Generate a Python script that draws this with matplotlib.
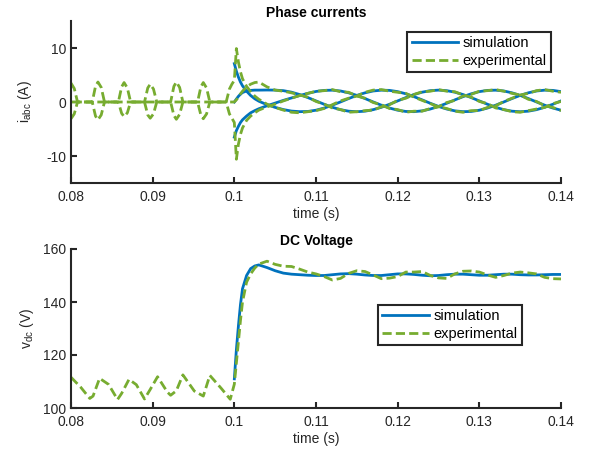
import matplotlib
matplotlib.use('Agg')
import matplotlib.pyplot as plt

plt.rcParams['font.family'] = ['Liberation Sans', 'DejaVu Sans']
plt.rcParams['mathtext.default'] = 'regular'
plt.rcParams['axes.unicode_minus'] = False

BLUE = '#0072BD'
GREEN = '#77AC30'
DARK = '#262626'

# ---- time bases (s) ----
t_sim = [0.1, 0.10025, 0.1005, 0.10075, 0.101, 0.1015, 0.102, 0.1025, 0.103,
         0.104, 0.105, 0.106, 0.107, 0.108, 0.109, 0.110, 0.111, 0.112, 0.113,
         0.114, 0.115, 0.116, 0.117, 0.118, 0.119, 0.120, 0.121, 0.122, 0.123,
         0.124, 0.125, 0.126, 0.127, 0.128, 0.129, 0.130, 0.131, 0.132, 0.133,
         0.134, 0.135, 0.136, 0.137, 0.138, 0.139, 0.140]

t_pulse = [0.0800, 0.0804, 0.0808,
           0.0826, 0.0830, 0.0833, 0.0837, 0.0841,
           0.0858, 0.0862, 0.0865, 0.0869, 0.0873,
           0.0890, 0.0894, 0.0897, 0.0901, 0.0905,
           0.0922, 0.0926, 0.0929, 0.0933, 0.0937,
           0.0955, 0.0959, 0.0962, 0.0966, 0.0970,
           0.0990, 0.0994, 0.0997]

t_vdc_pre = [0.0800, 0.0812, 0.0823, 0.0827, 0.0835, 0.0846, 0.0857, 0.0862,
             0.0871, 0.0880, 0.0890, 0.0897, 0.0906, 0.0918, 0.0922, 0.0929,
             0.0937, 0.0951, 0.0962, 0.0970, 0.0984, 0.0995]

# ---- phase currents, simulation (A) ----
ia_sim = [7.1, 5.7, 4.6, 3.7, 3.0, 2.0, 1.2, 0.6, 0.15,
          -0.5, -1.0, -1.4, -1.68, -1.79, -1.75, -1.52, -1.12, -0.59, 0.01,
          0.64, 1.22, 1.70, 2.04, 2.19, 2.15, 1.92, 1.52, 0.99, 0.39,
          -0.24, -0.82, -1.30, -1.64, -1.79, -1.75, -1.52, -1.12, -0.59, 0.01,
          0.64, 1.22, 1.70, 2.04, 2.19, 2.15, 1.92]
ib_sim = [0.0, 0.55, 1.05, 1.45, 1.75, 2.05, 2.15, 2.2, 2.2,
          2.22, 2.2, 2.1, 1.82, 1.38, 0.82, 0.2, -0.42, -0.98, -1.42,
          -1.70, -1.80, -1.70, -1.42, -0.98, -0.42, 0.20, 0.82, 1.38, 1.82,
          2.10, 2.20, 2.10, 1.82, 1.38, 0.82, 0.20, -0.42, -0.98, -1.42,
          -1.70, -1.80, -1.70, -1.42, -0.98, -0.42, 0.20]
ic_sim = [-6.5, -5.3, -4.5, -3.8, -3.3, -2.6, -2.0, -1.6, -1.25,
          -0.7, -0.2, 0.3, 0.75, 1.2, 1.6, 1.95, 2.15, 2.19, 2.04,
          1.70, 1.22, 0.64, 0.01, -0.59, -1.12, -1.52, -1.75, -1.79, -1.64,
          -1.30, -0.82, -0.24, 0.39, 0.99, 1.52, 1.92, 2.15, 2.19, 2.04,
          1.70, 1.22, 0.64, 0.01, -0.59, -1.12, -1.52]

# ---- phase currents, experimental (A) ----
ia_exp_pre = [3.5, 2.5, 0,
              0, 0, 0, 0, 0,
              0, -2.1, -2.7, -2.0, 0,
              0, -2.4, -3.0, -2.2, 0,
              0, 0, 0, 0, 0,
              0, 2.8, 3.6, 2.6, 0,
              0, 2.4, 3.3]
ib_exp_pre = [0, 0, 0,
              0, 2.9, 3.7, 2.7, 0,
              0, 2.8, 3.6, 2.6, 0,
              0, 0, 0, 0, 0,
              0, -2.5, -3.2, -2.3, 0,
              0, -2.4, -3.1, -2.2, 0,
              0, 0, 0]
ic_exp_pre = [-3.1, -2.2, 0,
              0, -2.6, -3.3, -2.4, 0,
              0, 0, 0, 0, 0,
              0, 2.6, 3.3, 2.4, 0,
              0, 2.9, 3.7, 2.7, 0,
              0, 0, 0, 0, 0,
              0, -2.2, -3.0]

ia_exp_post = [4.0, 9.9, 7.4, 5.6, 4.3, 2.9, 1.9, 1.1, 0.5,
               -0.4, -1.0, -1.5, -1.9, -2.0, -1.8, -1.6, -1.2, -0.5, 0.2,
               0.7, 1.1, 1.8, 2.2, 2.3, 2.0, 1.8, 1.6, 0.9, 0.3,
               -0.3, -0.9, -1.2, -1.7, -1.9, -1.6, -1.6, -1.0, -0.7, 0.1,
               0.7, 1.3, 1.6, 2.1, 2.3, 2.0, 1.8]
ib_exp_post = [0.0, 0.4, 0.9, 1.5, 2.0, 2.8, 3.3, 3.6, 3.7,
               2.8, 2.2, 2.0, 1.7, 1.3, 0.9, 0.1, -0.4, -1.1, -1.4,
               -1.9, -1.8, -1.6, -1.5, -0.9, -0.5, 0.3, 0.7, 1.4, 1.9,
               2.0, 2.3, 2.0, 1.9, 1.3, 0.9, 0.1, -0.3, -1.1, -1.4,
               -1.8, -1.9, -1.6, -1.3, -1.0, -0.3, 0.1]
ic_exp_post = [-3.8, -10.6, -7.8, -6.0, -4.8, -3.4, -2.6, -2.0, -1.5,
               -0.9, -0.4, 0.2, 0.7, 1.2, 1.6, 2.0, 2.1, 2.3, 1.9,
               1.8, 1.1, 0.7, -0.1, -0.5, -1.2, -1.4, -1.9, -1.7, -1.7,
               -1.2, -0.9, -0.1, 0.3, 1.1, 1.4, 2.0, 2.1, 2.3, 2.0,
               1.6, 1.3, 0.5, 0.1, -0.7, -1.0, -1.6]

# ---- DC voltage (V) ----
vdc_sim = [111.0, 122.0, 131.0, 139.0, 145.0, 150.0, 152.6, 153.6, 154.0,
           153.0, 151.8, 150.9, 150.5, 150.3, 150.1, 150.0, 150.0, 150.3, 150.6,
           150.7, 150.5, 150.2, 150.0, 150.0, 150.3, 150.6, 150.6, 150.4, 150.1,
           149.9, 150.0, 150.3, 150.5, 150.5, 150.3, 150.1, 150.1, 150.3, 150.5,
           150.5, 150.3, 150.2, 150.2, 150.3, 150.4, 150.4]
vdc_exp_pre = [111.6, 107.8, 103.6, 104.5, 111.2, 108.9, 103.2, 105.5,
               110.8, 108.8, 103.4, 107.0, 111.8, 106.0, 104.8, 106.5,
               112.5, 106.4, 104.5, 112.3, 107.4, 103.3]
vdc_exp_post = [109.0, 117.0, 125.0, 133.0, 140.0, 147.5, 150.6, 152.8, 154.3,
                155.4, 154.2, 153.5, 153.4, 152.4, 151.3, 150.6, 149.6, 148.3, 148.9,
                150.8, 151.8, 151.5, 150.2, 148.8, 149.0, 149.6, 151.3, 151.3, 151.5,
                150.0, 149.1, 148.9, 150.6, 151.6, 151.7, 151.3, 150.2, 149.3, 150.0,
                150.9, 151.3, 151.0, 150.6, 149.3, 148.8, 148.7]

xticks = [0.08, 0.09, 0.10, 0.11, 0.12, 0.13, 0.14]
xtick_labels = ['0.08', '0.09', '0.1', '0.11', '0.12', '0.13', '0.14']

t_exp = t_pulse + t_sim
t_vdc_exp = t_vdc_pre + t_sim


def style_axes(ax):
    for side in ['top', 'right']:
        ax.spines[side].set_visible(False)
    for side in ['left', 'bottom']:
        ax.spines[side].set_linewidth(1.5)
        ax.spines[side].set_color(DARK)
    ax.tick_params(direction='in', length=4, width=1.5, colors=DARK,
                   labelsize=10, top=False, right=False)
    ax.tick_params(axis='x', pad=5)
    ax.set_xlim(0.08, 0.14)
    ax.set_xticks(xticks)
    ax.set_xticklabels(xtick_labels)
    ax.set_xlabel('time (s)', fontsize=10, color=DARK, labelpad=2)


def add_legend(ax, anchor):
    leg = ax.legend(loc='upper right', bbox_to_anchor=anchor, fontsize=10.5,
                    fancybox=False, framealpha=1, edgecolor=DARK,
                    handlelength=3.2, handletextpad=0.3, borderpad=0.3,
                    labelspacing=0.25, borderaxespad=0)
    leg.get_frame().set_linewidth(1.5)


fig = plt.figure(figsize=(5.93, 4.58), dpi=100)
ax1 = fig.add_axes([71 / 593, 1 - 183 / 458, 490 / 593, 162 / 458])
ax2 = fig.add_axes([71 / 593, 1 - 408 / 458, 490 / 593, 159 / 458])

# top: phase currents
ax1.plot(t_sim, ia_sim, '-', color=BLUE, lw=2.0, label='simulation')
ax1.plot(t_sim, ib_sim, '-', color=BLUE, lw=2.0)
ax1.plot(t_sim, ic_sim, '-', color=BLUE, lw=2.0)
ax1.plot(t_exp, ia_exp_pre + ia_exp_post, '--', color=GREEN, lw=2.0,
         dashes=(3.3, 1.5), label='experimental')
ax1.plot(t_exp, ib_exp_pre + ib_exp_post, '--', color=GREEN, lw=2.0,
         dashes=(3.3, 1.5))
ax1.plot(t_exp, ic_exp_pre + ic_exp_post, '--', color=GREEN, lw=2.0,
         dashes=(3.3, 1.5))
ax1.set_ylim(-15, 15)
ax1.set_yticks([-10, 0, 10])
ax1.set_ylabel('$i_{abc}$ (A)', fontsize=10, color=DARK, labelpad=9)
ax1.set_title('Phase currents', fontsize=10, fontweight='bold', color='black', pad=3)
style_axes(ax1)
add_legend(ax1, (0.98, 0.932))

# bottom: DC voltage
ax2.plot(t_sim, vdc_sim, '-', color=BLUE, lw=2.0, label='simulation')
ax2.plot(t_vdc_exp, vdc_exp_pre + vdc_exp_post, '--', color=GREEN, lw=2.0,
         dashes=(3.3, 1.5), label='experimental')
ax2.set_ylim(100, 160)
ax2.set_yticks([100, 120, 140, 160])
ax2.set_ylabel('$v_{dc}$ (V)', fontsize=10, color=DARK, labelpad=5)
ax2.set_title('DC Voltage', fontsize=10, fontweight='bold', color='black', pad=3)
style_axes(ax2)
add_legend(ax2, (0.92, 0.65))

fig.savefig('out.png', dpi=100, facecolor='white')
